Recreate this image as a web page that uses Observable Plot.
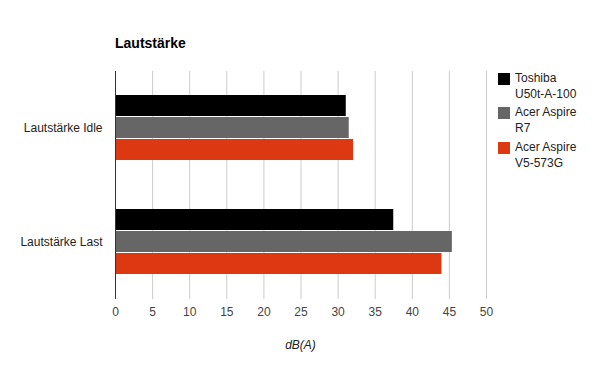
<!DOCTYPE html>
<html><head><meta charset="utf-8">
<script src="https://cdn.jsdelivr.net/npm/d3@7"></script>
<script src="https://cdn.jsdelivr.net/npm/@observablehq/plot@0.6"></script>
<style>
body{margin:0;background:#fff;font-family:"Liberation Sans",Arial,sans-serif;}
#wrap{position:relative;width:600px;height:371px;}
#title{position:absolute;left:115px;top:35px;font-size:14px;font-weight:bold;color:#000;}
#xlabel{position:absolute;left:0;width:601px;text-align:center;top:338px;font-size:12px;font-style:italic;color:#222;}
.leg{position:absolute;left:498px;font-size:12px;color:#222;line-height:16px;}
.leg span.sw{position:absolute;left:0;top:1px;width:12px;height:12px;}
.leg span.tx{position:absolute;left:17px;top:-2px;white-space:nowrap;}
</style></head>
<body><div id="wrap"><div id="chart"></div><div id="title">Lautstärke</div><div id="xlabel">dB(A)</div></div>
<script>
const categories = ["Lautstärke Idle", "Lautstärke Last"];
const series = ["Toshiba U50t-A-100", "Acer Aspire R7", "Acer Aspire V5-573G"];
const legendLines = [["Toshiba", "U50t-A-100"], ["Acer Aspire", "R7"], ["Acer Aspire", "V5-573G"]];
const colors = ["#000000", "#666666", "#dc3912"];
const toshiba = [31.1, 37.5];
const acerR7 = [31.5, 45.4];
const acerV5 = [32.1, 44.0];
const xTicks = [0, 5, 10, 15, 20, 25, 30, 35, 40, 45, 50];

const values = [toshiba, acerR7, acerV5];
const data = [];
categories.forEach((c, i) => series.forEach((s, j) => data.push({cat: c, series: s, value: values[j][i]})));

const chart = Plot.plot({
  width: 600, height: 371,
  marginLeft: 115, marginRight: 114, marginTop: 71, marginBottom: 72,
  style: {fontFamily: '"Liberation Sans", Arial, sans-serif', fontSize: "12px", color: "#222"},
  x: {domain: [0, 50], ticks: xTicks, label: null},
  y: {domain: series, axis: null, paddingInner: 0.04, paddingOuter: 1},
  fy: {domain: categories, padding: 0, label: null},
  color: {domain: series, range: colors},
  marks: [
    Plot.gridX(xTicks, {stroke: "#cccccc", strokeOpacity: 1}),
    Plot.axisX(xTicks, {tickSize: 0, tickPadding: 8, fontSize: 12, fill: "#444", label: null, facetAnchor: "bottom"}),
    Plot.axisFy({anchor: "left", tickSize: 0, tickPadding: 13, fontSize: 12, fill: "#222", label: null}),
    Plot.barX(data, {x: "value", y: "series", fy: "cat", fill: "series"}),
    Plot.ruleX([0], {stroke: "#333", strokeWidth: 1})
  ]
});
document.getElementById("chart").appendChild(chart);

const wrap = document.getElementById("wrap");
const legTops = [72, 106, 141];
series.forEach((s, i) => {
  const d = document.createElement("div");
  d.className = "leg";
  d.style.top = legTops[i] + "px";
  d.innerHTML = `<span class="sw" style="background:${colors[i]}"></span><span class="tx">${legendLines[i][0]}<br>${legendLines[i][1]}</span>`;
  wrap.appendChild(d);
});
</script></body></html>
